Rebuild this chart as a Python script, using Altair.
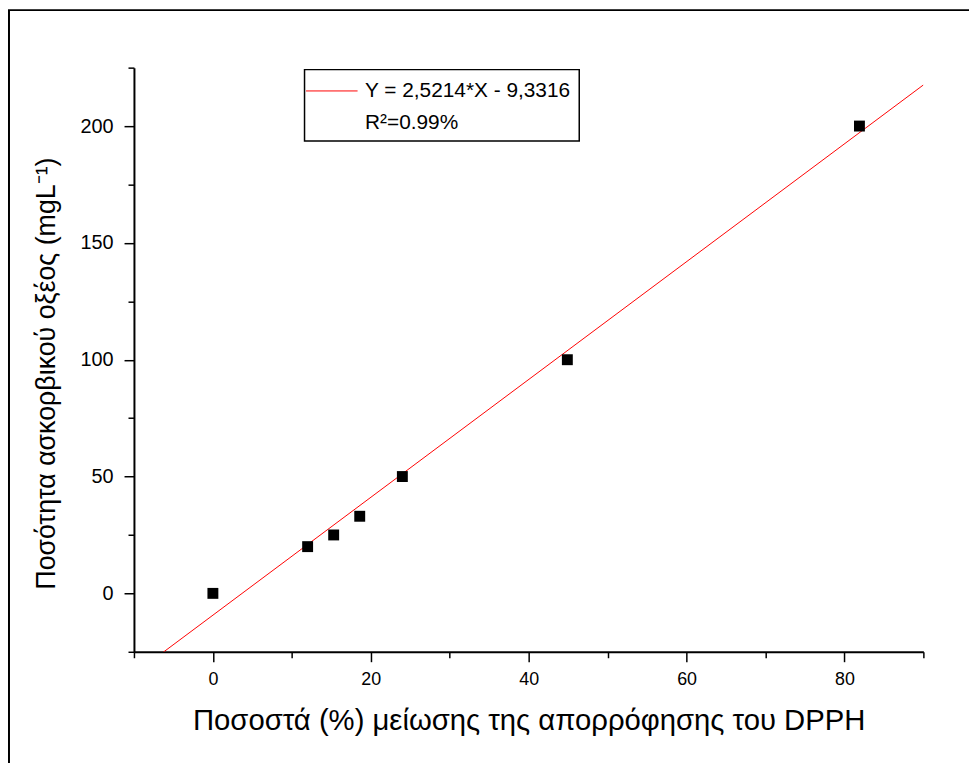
import altair as alt
import pandas as pd

# ---- data ----
pct_reduction = [0.0, 12.0, 15.3, 18.6, 24.0, 44.9, 81.9]   # x: % reduction of DPPH absorbance
ascorbic = [0, 20, 25, 33, 50, 100, 200]                    # y: ascorbic acid (mg/L)
fit_slope = 2.5214
fit_intercept = -9.3316
fit_x_range = [-10, 90]
legend_labels = ["Y = 2,5214*X - 9,3316", "R²=0.99%"]
x_ticks = [-10, 0, 10, 20, 30, 40, 50, 60, 70, 80, 90]
y_ticks = [-25, 0, 25, 50, 75, 100, 125, 150, 175, 200, 225]
x_title = "Ποσοστά (%) μείωσης της απορρόφησης του DPPH"
y_title = "Ποσότητα ασκορβικού οξέος (mgL⁻¹)"

FONT = "Liberation Sans"

pts = pd.DataFrame({"x": pct_reduction, "y": ascorbic})
fit = pd.DataFrame({"x": fit_x_range, "series": [legend_labels[0]] * len(fit_x_range)})

xscale = alt.Scale(domain=[fit_x_range[0], fit_x_range[-1]], nice=False, zero=False)
yscale = alt.Scale(domain=[y_ticks[0], y_ticks[-1]], nice=False, zero=False)

xaxis = alt.Axis(
    values=x_ticks, title=x_title,
    tickSize=alt.condition("datum.value % 20 === 0", alt.value(10), alt.value(6)),
    labelExpr="datum.value % 20 === 0 ? datum.label : ''",
    labelOverlap=False, labelFlush=False, labelPadding=9,
    titlePadding=18, titleFontSize=29.5, labelFontSize=18,
)
yaxis = alt.Axis(
    values=y_ticks, title=y_title,
    tickSize=alt.condition("datum.value % 50 === 0", alt.value(10), alt.value(6)),
    labelExpr="datum.value % 50 === 0 ? datum.label : ''",
    labelOverlap=False, labelFlush=False, labelPadding=11,
    titlePadding=20, titleFontSize=27, labelFontSize=20, titleY=308,
)

points = alt.Chart(pts).mark_square(size=121, color="black", opacity=1, filled=True).encode(
    x=alt.X("x:Q", scale=xscale, axis=xaxis),
    y=alt.Y("y:Q", scale=yscale, axis=yaxis),
)

line = alt.Chart(fit).transform_calculate(
    y=f"{fit_slope} * datum.x + ({fit_intercept})"
).mark_line(strokeWidth=1, clip=True).encode(
    x=alt.X("x:Q", scale=xscale),
    y=alt.Y("y:Q", scale=yscale),
    color=alt.Color(
        "series:N",
        scale=alt.Scale(domain=legend_labels, range=["#ff0000", "transparent"]),
        legend=alt.Legend(
            orient="none", legendX=172, legendY=2, title=None,
            strokeColor="black", fillColor="white", padding=8,
            symbolType="M-2,0H2", symbolSize=676, symbolStrokeWidth=1,
            symbolOffset=6, labelOffset=20, labelLimit=400,
            labelFont=FONT, labelFontSize=21, labelColor="black", rowPadding=8,
        ),
    ),
)

one = pd.DataFrame({"a": [0]})
frame_left = alt.Chart(one).mark_rule(color="black", strokeWidth=2).encode(
    x=alt.value(-126), y=alt.value(-58), y2=alt.value(720)
)
frame_top = alt.Chart(one).mark_rule(color="black", strokeWidth=2).encode(
    x=alt.value(-127), x2=alt.value(860), y=alt.value(-58)
)

chart = alt.layer(line, points, frame_left, frame_top).properties(
    width=796, height=589,
    padding={"left": 127, "top": 57, "right": 46, "bottom": 109},
    autosize=alt.AutoSizeParams(type="none"),
    background="white",
).configure_view(stroke=None).configure_axis(
    domainColor="black", domainWidth=2, tickColor="black", tickWidth=1.5,
    labelColor="black", titleColor="black", labelFont=FONT, titleFont=FONT,
    titleFontWeight="normal", grid=False,
).configure_legend(strokeWidth=1.5)

chart.save("out.html", embed_options={"renderer": "svg", "actions": False})
